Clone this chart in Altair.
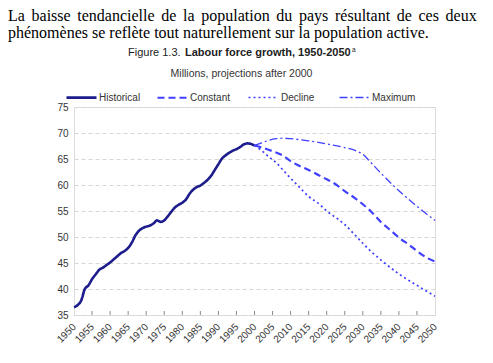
import altair as alt
import pandas as pd

# ---------------- data ----------------
series_names = ["Historical", "Constant", "Decline", "Maximum"]

hist_years = list(range(1950, 2001))
hist_values = [36.5, 36.9, 37.8, 40.0, 40.7, 41.9, 42.8, 43.7, 44.1, 44.6,
               45.1, 45.7, 46.3, 46.9, 47.3, 47.9, 48.9, 50.3, 51.2, 51.7,
               52.0, 52.2, 52.6, 53.2, 52.9, 53.2, 54.0, 54.9, 55.7, 56.2,
               56.6, 57.2, 58.3, 59.1, 59.6, 59.9, 60.4, 61.0, 61.8, 62.9,
               64.0, 65.1, 65.7, 66.2, 66.6, 66.9, 67.3, 67.8, 68.0, 67.9,
               67.6]

const_years = [2000, 2002, 2005, 2008, 2010, 2013, 2015, 2018, 2020, 2023,
               2025, 2028, 2030, 2032, 2035, 2038, 2040, 2043, 2045, 2048, 2050]
const_values = [67.6, 67.2, 66.5, 65.6, 64.6, 63.5, 62.9, 61.8, 61.1, 59.9,
                58.8, 57.4, 56.3, 55.1, 52.9, 51.1, 49.9, 48.4, 47.3, 45.9, 45.3]

decl_years = [2000, 2002, 2004, 2006, 2008, 2010, 2012, 2015, 2018, 2020,
              2023, 2025, 2027, 2030, 2032, 2035, 2040, 2045, 2050]
decl_values = [67.6, 66.6, 65.4, 64.3, 62.8, 61.3, 59.9, 57.8, 56.3, 55.0,
               53.5, 52.4, 51.0, 48.8, 47.4, 45.6, 42.9, 40.7, 38.6]

max_years = [2000, 2002, 2004, 2006, 2008, 2010, 2015, 2020, 2025, 2028,
             2030, 2032, 2035, 2040, 2045, 2050]
max_values = [67.6, 68.1, 68.6, 68.9, 69.0, 68.9, 68.5, 67.9, 67.2, 66.6,
              65.9, 64.5, 62.3, 58.9, 55.9, 53.2]

x_ticks = list(range(1950, 2051, 5))
y_ticks = list(range(35, 76, 5))

para_line1 = "La baisse tendancielle de la population du pays résultant de ces deux"
para_line2 = "phénomènes se reflète tout naturellement sur la population active."
fig_label = "Figure 1.3."
fig_title = "Labour force growth, 1950-2050"
fig_note = "a"
fig_subtitle = "Millions, projections after 2000"

# ---------------- table ----------------
rows = []
for name, ys, vs in [("Historical", hist_years, hist_values),
                     ("Constant", const_years, const_values),
                     ("Decline", decl_years, decl_values),
                     ("Maximum", max_years, max_values)]:
    for y, v in zip(ys, vs):
        rows.append({"year": y, "value": v, "series": name})
df = pd.DataFrame(rows)
ticks_df = pd.DataFrame({"year": x_ticks[1:-1]})

SANS = "Liberation Sans"
SERIF = "Liberation Serif"

# justified first line: widen each word gap slightly
para_line1_just = para_line1.replace(" ", " \u2006")

legend = alt.Legend(
    title=None, orient="none", legendX=-9, legendY=-26, direction="horizontal",
    columns=4, symbolType="stroke", symbolSize=900, labelFont=SANS,
    labelFontSize=10, labelColor="#333333", labelOffset=1, gridAlign="all",
    columnPadding=10, padding=0,
)

x_axis = alt.Axis(values=x_ticks, format="d", title=None, labelAngle=-45,
                  labelAlign="right", labelBaseline="middle", labelPadding=10,
                  labelOverlap=False, labelBound=False, labelFlush=False,
                  ticks=False, domain=False, grid=False,
                  labelFont=SANS, labelFontSize=10, labelColor="#333333")
x_scale = alt.Scale(domain=[1950, 2050], nice=False, zero=False)
x_enc = alt.X("year:Q", scale=x_scale, axis=x_axis)
y_enc = alt.Y("value:Q", scale=alt.Scale(domain=[35, 75], nice=False, zero=False),
              axis=alt.Axis(values=y_ticks, title=None, ticks=False, domain=False,
                            labelPadding=6, grid=True, gridDash=[4, 3],
                            gridColor="#d6d6d6", gridWidth=1, labelOverlap=False,
                            labelFont=SANS, labelFontSize=10, labelColor="#333333"))

lines = alt.Chart(df).mark_line(interpolate="monotone").encode(
    x=x_enc,
    y=y_enc,
    color=alt.Color("series:N", scale=alt.Scale(domain=series_names,
                    range=["#1c1c8c", "#4040ff", "#4040ff", "#4040ff"]), legend=legend),
    strokeDash=alt.StrokeDash("series:N", scale=alt.Scale(domain=series_names,
                    range=[[1, 0], [7, 4], [2, 3], [8, 3, 2, 3]]), legend=legend),
    strokeWidth=alt.StrokeWidth("series:N", scale=alt.Scale(domain=series_names,
                    range=[2.6, 1.3, 1.3, 1.3]), legend=legend),
    order=alt.Order("year:Q"),
)

tick_marks = alt.Chart(ticks_df).mark_rule(color="#8a8a8a", strokeWidth=1).encode(
    x=alt.X("year:Q", scale=x_scale, axis=x_axis), y=alt.value(208), y2=alt.value(204)
)


def text_layer(txt, x, y, size, font, weight="normal", align="left", color="#000000"):
    return alt.Chart(pd.DataFrame({"t": [txt]})).mark_text(
        align=align, baseline="alphabetic", font=font, fontSize=size,
        fontWeight=weight, color=color
    ).encode(text="t:N", x=alt.value(x), y=alt.value(y))


texts = [
    text_layer(para_line1_just, -66, -86, 16, SERIF),
    text_layer(para_line2, -66, -69, 16, SERIF),
    text_layer(fig_label, 54, -51, 11, SANS, color="#222222"),
    text_layer(fig_title, 111, -51, 11, SANS, weight="bold", color="#222222"),
    text_layer(fig_note, 278, -55, 6.5, SANS, color="#222222"),
    text_layer(fig_subtitle, 167.5, -30.5, 10.5, SANS, align="center", color="#333333"),
]

chart = alt.layer(lines, tick_marks, *texts).properties(
    width=361, height=208,
    autosize=alt.AutoSizeParams(type="none"),
    padding={"left": 66, "top": 99, "right": 50, "bottom": 40},
).configure_view(stroke="#8a8a8a", strokeWidth=1.5).configure(background="white")

chart.save("out.html", embed_options={"renderer": "svg", "actions": False})
